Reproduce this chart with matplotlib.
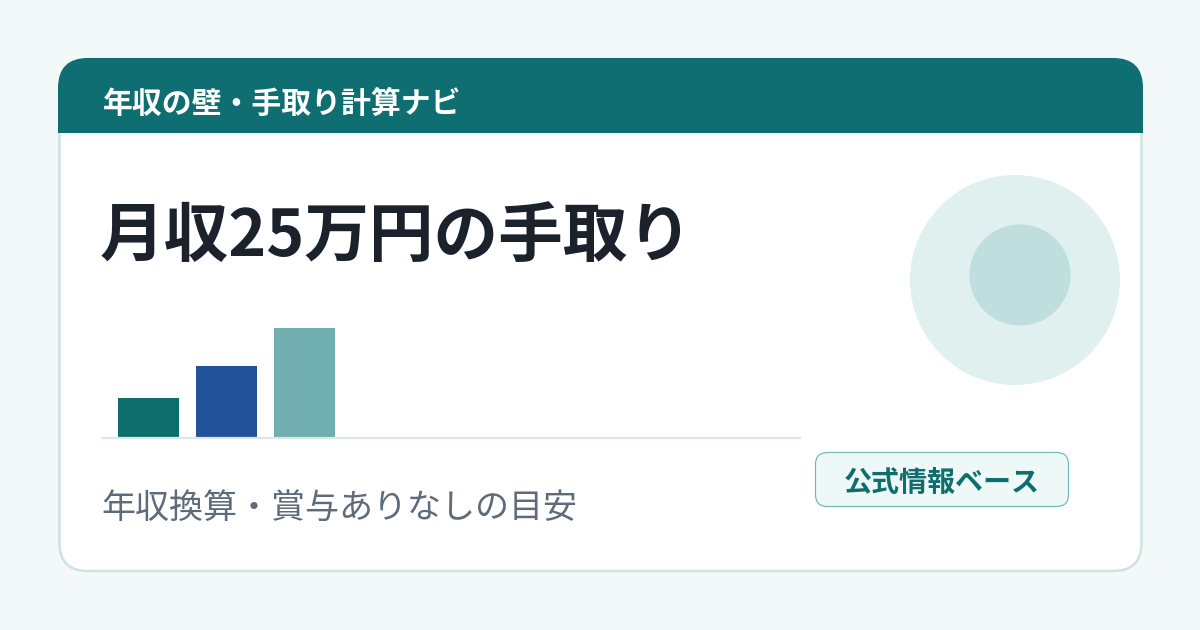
import matplotlib
matplotlib.use("Agg")
import matplotlib.pyplot as plt
from matplotlib.patches import FancyBboxPatch, Rectangle, Circle

plt.rcParams['font.family'] = ['Noto Sans CJK JP', 'DejaVu Sans']

# ---- data ----
header_text = "年収の壁・手取り計算ナビ"
title_text = "月収25万円の手取り"
subtitle_text = "年収換算・賞与ありなしの目安"
badge_text = "公式情報ベース"
bar_categories = ["A", "B", "C"]
bar_values = [40, 72, 110]
bar_colors = ["#0e6e6e", "#23529a", "#70aeb0"]

W, H = 1200, 630
fig = plt.figure(figsize=(12, 6.3), dpi=100)
fig.patch.set_facecolor("#f3f8f8")
ax = fig.add_axes([0, 0, 1, 1])
ax.set_xlim(0, W)
ax.set_ylim(H, 0)
ax.axis("off")

def px(v):
    return v * 0.72  # pixels -> points at dpi 100

# card
card = FancyBboxPatch((59.5, 59), 1082, 512,
                      boxstyle="round,pad=0,rounding_size=28",
                      facecolor="white", edgecolor="#cfe3e3", linewidth=px(2.5), zorder=1)
ax.add_patch(card)

# header band
hdr = FancyBboxPatch((58, 58), 1085, 74.5,
                     boxstyle="round,pad=0,rounding_size=30",
                     facecolor="#0e6e71", edgecolor="none", zorder=2)
ax.add_patch(hdr)
ax.add_patch(Rectangle((58, 95), 1085, 37.5, facecolor="#0e6e71", edgecolor="none", zorder=2))
ax.text(103, 104, header_text, color="white", fontsize=21.5, fontweight="bold",
        ha="left", va="center", zorder=3)

# title
ax.text(100, 237, title_text, color="#1b222c", fontsize=46.5, fontweight="bold",
        ha="left", va="center", zorder=3)

# subtitle
ax.text(101, 508, subtitle_text, color="#5f6b7a", fontsize=24.5,
        ha="left", va="center", zorder=3)

# decorative circles
ax.add_patch(Circle((1015, 280), 105, facecolor="#dff0ef", edgecolor="none", zorder=2))
ax.add_patch(Circle((1020, 275), 50.5, facecolor="#bfdede", edgecolor="none", zorder=3))

# badge
badge = FancyBboxPatch((815.5, 452.5), 253, 54,
                       boxstyle="round,pad=0,rounding_size=12",
                       facecolor="#eef8f7", edgecolor="#70b8ba", linewidth=px(1.2), zorder=3)
ax.add_patch(badge)
ax.text(941.5, 484, badge_text, color="#0e6e6e", fontsize=20.2, fontweight="bold",
        ha="center", va="center", zorder=4)

# bar chart inset: x 102..800 px, y 318..438 px
left_px, right_px, top_px, base_px = 102, 800, 318, 438
bax = fig.add_axes([left_px / W, 1 - base_px / H, (right_px - left_px) / W, (base_px - top_px) / H])
bax.set_facecolor("none")
pitch = 78.0
first_center = 148.5
bax.set_xlim(-(first_center - left_px) / pitch, (right_px - first_center) / pitch)
bax.set_ylim(0, base_px - top_px)
xs = list(range(len(bar_values)))
bax.bar(xs, bar_values, width=61 / pitch, color=bar_colors, zorder=2)
bax.axhline(0, color="#dce8e8", linewidth=px(2.2), zorder=3, clip_on=False)
bax.axis("off")

fig.savefig("out.png", dpi=100, facecolor=fig.get_facecolor())
